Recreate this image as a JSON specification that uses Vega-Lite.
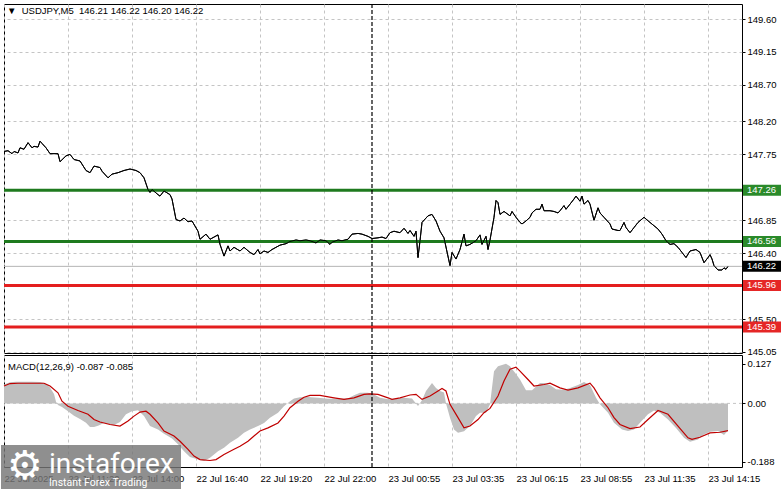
{
  "$schema": "https://vega.github.io/schema/vega-lite/v6.json",
  "background": "#ffffff",
  "padding": {"left": 0, "top": 2, "right": 0, "bottom": 0},
  "bounds": "flush",
  "spacing": 2,
  "config": {
    "view": {"stroke": "#000000", "strokeWidth": 1},
    "axis": {"labelFont": "Liberation Sans", "labelFontSize": 9.5, "labelColor": "#000000", "gridColor": "#c4c4c4", "gridDash": [3, 3], "gridWidth": 1, "tickColor": "#000000", "domain": false}
  },
  "datasets": {
    "price": [
      {"i":0,"p":147.79},{"i":2,"p":147.80},{"i":4,"p":147.76},{"i":5,"p":147.79},{"i":7,"p":147.77},{"i":8,"p":147.84},{"i":10,"p":147.82},{"i":12,"p":147.91},{"i":14,"p":147.84},{"i":15,"p":147.86},{"i":17,"p":147.85},{"i":18,"p":147.93},{"i":19,"p":147.90},{"i":21,"p":147.84},{"i":23,"p":147.76},{"i":27,"p":147.76},{"i":28,"p":147.65},{"i":31,"p":147.73},{"i":33,"p":147.75},{"i":35,"p":147.68},{"i":38,"p":147.66},{"i":41,"p":147.53},{"i":43,"p":147.50},{"i":45,"p":147.59},{"i":48,"p":147.57},{"i":49,"p":147.52},{"i":52,"p":147.43},{"i":54,"p":147.48},{"i":57,"p":147.50},{"i":60,"p":147.53},{"i":63,"p":147.55},{"i":66,"p":147.53},{"i":68,"p":147.50},{"i":70,"p":147.43},{"i":72,"p":147.27},{"i":73,"p":147.23},{"i":74,"p":147.27},{"i":77,"p":147.20},{"i":78,"p":147.18},{"i":80,"p":147.25},{"i":83,"p":147.20},{"i":84,"p":147.14},{"i":86,"p":146.86},{"i":88,"p":146.84},{"i":90,"p":146.88},{"i":92,"p":146.83},{"i":94,"p":146.84},{"i":97,"p":146.70},{"i":98,"p":146.59},{"i":101,"p":146.66},{"i":103,"p":146.59},{"i":107,"p":146.65},{"i":108,"p":146.52},{"i":110,"p":146.36},{"i":112,"p":146.50},{"i":113,"p":146.43},{"i":115,"p":146.48},{"i":118,"p":146.43},{"i":120,"p":146.48},{"i":123,"p":146.41},{"i":125,"p":146.38},{"i":127,"p":146.45},{"i":128,"p":146.39},{"i":130,"p":146.43},{"i":132,"p":146.41},{"i":134,"p":146.45},{"i":136,"p":146.48},{"i":138,"p":146.51},{"i":141,"p":146.53},{"i":143,"p":146.56},{"i":146,"p":146.58},{"i":148,"p":146.57},{"i":151,"p":146.58},{"i":153,"p":146.57},{"i":156,"p":146.54},{"i":158,"p":146.58},{"i":161,"p":146.57},{"i":163,"p":146.52},{"i":164,"p":146.55},{"i":167,"p":146.58},{"i":169,"p":146.57},{"i":172,"p":146.59},{"i":174,"p":146.66},{"i":177,"p":146.67},{"i":179,"p":146.66},{"i":182,"p":146.63},{"i":184,"p":146.60},{"i":187,"p":146.61},{"i":189,"p":146.62},{"i":191,"p":146.60},{"i":193,"p":146.68},{"i":195,"p":146.70},{"i":198,"p":146.68},{"i":200,"p":146.74},{"i":202,"p":146.67},{"i":203,"p":146.71},{"i":205,"p":146.63},{"i":206,"p":146.70},{"i":207,"p":146.34},{"i":208,"p":146.57},{"i":209,"p":146.82},{"i":212,"p":146.91},{"i":214,"p":146.93},{"i":216,"p":146.84},{"i":218,"p":146.70},{"i":220,"p":146.61},{"i":223,"p":146.23},{"i":224,"p":146.41},{"i":226,"p":146.32},{"i":228,"p":146.45},{"i":230,"p":146.66},{"i":231,"p":146.50},{"i":233,"p":146.52},{"i":236,"p":146.57},{"i":238,"p":146.65},{"i":239,"p":146.52},{"i":241,"p":146.63},{"i":242,"p":146.45},{"i":243,"p":146.58},{"i":245,"p":146.89},{"i":246,"p":147.12},{"i":247,"p":147.09},{"i":248,"p":146.93},{"i":250,"p":146.97},{"i":252,"p":146.93},{"i":253,"p":146.91},{"i":254,"p":146.97},{"i":256,"p":146.89},{"i":258,"p":146.82},{"i":259,"p":146.80},{"i":261,"p":146.84},{"i":263,"p":146.89},{"i":264,"p":146.95},{"i":266,"p":147.00},{"i":268,"p":147.00},{"i":269,"p":147.07},{"i":270,"p":146.98},{"i":273,"p":146.98},{"i":275,"p":146.97},{"i":277,"p":146.95},{"i":278,"p":146.98},{"i":280,"p":147.05},{"i":281,"p":147.00},{"i":283,"p":147.07},{"i":285,"p":147.14},{"i":286,"p":147.18},{"i":288,"p":147.11},{"i":289,"p":147.18},{"i":290,"p":147.07},{"i":292,"p":147.12},{"i":293,"p":147.07},{"i":295,"p":146.85},{"i":297,"p":147.02},{"i":298,"p":146.95},{"i":300,"p":146.89},{"i":303,"p":146.80},{"i":304,"p":146.73},{"i":307,"p":146.71},{"i":308,"p":146.71},{"i":310,"p":146.82},{"i":311,"p":146.75},{"i":313,"p":146.68},{"i":315,"p":146.75},{"i":317,"p":146.82},{"i":320,"p":146.89},{"i":323,"p":146.82},{"i":327,"p":146.73},{"i":329,"p":146.66},{"i":331,"p":146.57},{"i":333,"p":146.52},{"i":335,"p":146.53},{"i":337,"p":146.48},{"i":339,"p":146.41},{"i":341,"p":146.34},{"i":343,"p":146.43},{"i":346,"p":146.45},{"i":348,"p":146.41},{"i":350,"p":146.27},{"i":352,"p":146.34},{"i":353,"p":146.38},{"i":354,"p":146.32},{"i":355,"p":146.23},{"i":357,"p":146.17},{"i":359,"p":146.17},{"i":360,"p":146.20},{"i":361,"p":146.18},{"i":362,"p":146.22}
    ],
    "macd": [
      {"i":0,"v":0.061},{"i":3,"v":0.068},{"i":6,"v":0.070},{"i":10,"v":0.070},{"i":14,"v":0.070},{"i":18,"v":0.069},{"i":21,"v":0.064},{"i":23,"v":0.051},{"i":25,"v":0.030},{"i":26,"v":0.005},{"i":27,"v":-0.005},{"i":29,"v":-0.012},{"i":32,"v":-0.025},{"i":35,"v":-0.040},{"i":38,"v":-0.050},{"i":41,"v":-0.062},{"i":43,"v":-0.076},{"i":45,"v":-0.076},{"i":47,"v":-0.072},{"i":50,"v":-0.063},{"i":53,"v":-0.068},{"i":55,"v":-0.070},{"i":58,"v":-0.060},{"i":61,"v":-0.035},{"i":64,"v":-0.025},{"i":67,"v":-0.022},{"i":70,"v":-0.041},{"i":73,"v":-0.073},{"i":77,"v":-0.084},{"i":80,"v":-0.098},{"i":84,"v":-0.113},{"i":87,"v":-0.132},{"i":90,"v":-0.154},{"i":93,"v":-0.173},{"i":97,"v":-0.181},{"i":100,"v":-0.186},{"i":103,"v":-0.175},{"i":107,"v":-0.154},{"i":110,"v":-0.143},{"i":113,"v":-0.127},{"i":117,"v":-0.111},{"i":120,"v":-0.095},{"i":123,"v":-0.084},{"i":127,"v":-0.073},{"i":130,"v":-0.063},{"i":133,"v":-0.046},{"i":137,"v":-0.030},{"i":140,"v":-0.009},{"i":143,"v":0.007},{"i":145,"v":0.016},{"i":148,"v":0.020},{"i":152,"v":0.021},{"i":157,"v":0.018},{"i":162,"v":0.015},{"i":167,"v":0.015},{"i":172,"v":0.016},{"i":175,"v":0.026},{"i":178,"v":0.034},{"i":182,"v":0.034},{"i":185,"v":0.029},{"i":188,"v":0.018},{"i":192,"v":0.013},{"i":196,"v":0.015},{"i":200,"v":0.018},{"i":204,"v":0.016},{"i":207,"v":-0.008},{"i":209,"v":0.010},{"i":211,"v":0.040},{"i":214,"v":0.066},{"i":216,"v":0.050},{"i":218,"v":0.040},{"i":220,"v":0.035},{"i":221,"v":0.000},{"i":223,"v":-0.046},{"i":225,"v":-0.084},{"i":227,"v":-0.095},{"i":230,"v":-0.090},{"i":233,"v":-0.073},{"i":236,"v":-0.041},{"i":238,"v":-0.030},{"i":241,"v":-0.030},{"i":243,"v":-0.003},{"i":245,"v":0.104},{"i":247,"v":0.120},{"i":251,"v":0.128},{"i":253,"v":0.120},{"i":256,"v":0.095},{"i":258,"v":0.077},{"i":261,"v":0.042},{"i":264,"v":0.042},{"i":268,"v":0.066},{"i":270,"v":0.066},{"i":273,"v":0.059},{"i":276,"v":0.046},{"i":280,"v":0.044},{"i":283,"v":0.050},{"i":287,"v":0.059},{"i":290,"v":0.069},{"i":293,"v":0.059},{"i":296,"v":0.018},{"i":298,"v":-0.003},{"i":302,"v":-0.030},{"i":305,"v":-0.062},{"i":309,"v":-0.084},{"i":312,"v":-0.089},{"i":315,"v":-0.084},{"i":318,"v":-0.062},{"i":322,"v":-0.035},{"i":325,"v":-0.023},{"i":328,"v":-0.030},{"i":332,"v":-0.052},{"i":336,"v":-0.079},{"i":340,"v":-0.111},{"i":343,"v":-0.124},{"i":347,"v":-0.116},{"i":350,"v":-0.100},{"i":353,"v":-0.091},{"i":357,"v":-0.089},{"i":360,"v":-0.102},{"i":362,"v":-0.087}
    ],
    "signal": [
      {"i":0,"s":0.056},{"i":3,"s":0.064},{"i":7,"s":0.065},{"i":20,"s":0.065},{"i":23,"s":0.056},{"i":27,"s":0.034},{"i":29,"s":0.007},{"i":32,"s":-0.009},{"i":37,"s":-0.023},{"i":42,"s":-0.035},{"i":45,"s":-0.052},{"i":48,"s":-0.060},{"i":53,"s":-0.068},{"i":58,"s":-0.073},{"i":62,"s":-0.057},{"i":65,"s":-0.041},{"i":68,"s":-0.028},{"i":71,"s":-0.025},{"i":73,"s":-0.035},{"i":77,"s":-0.063},{"i":80,"s":-0.089},{"i":85,"s":-0.105},{"i":88,"s":-0.122},{"i":92,"s":-0.148},{"i":95,"s":-0.170},{"i":98,"s":-0.181},{"i":103,"s":-0.184},{"i":106,"s":-0.181},{"i":110,"s":-0.165},{"i":115,"s":-0.148},{"i":118,"s":-0.138},{"i":122,"s":-0.122},{"i":125,"s":-0.105},{"i":128,"s":-0.089},{"i":132,"s":-0.079},{"i":137,"s":-0.063},{"i":140,"s":-0.041},{"i":143,"s":-0.014},{"i":147,"s":0.007},{"i":150,"s":0.020},{"i":153,"s":0.026},{"i":158,"s":0.026},{"i":165,"s":0.018},{"i":170,"s":0.013},{"i":175,"s":0.018},{"i":180,"s":0.029},{"i":183,"s":0.031},{"i":187,"s":0.029},{"i":192,"s":0.018},{"i":194,"s":0.013},{"i":198,"s":0.018},{"i":203,"s":0.027},{"i":206,"s":0.029},{"i":209,"s":0.013},{"i":213,"s":0.024},{"i":217,"s":0.040},{"i":219,"s":0.048},{"i":221,"s":0.040},{"i":223,"s":-0.003},{"i":227,"s":-0.046},{"i":230,"s":-0.079},{"i":233,"s":-0.073},{"i":237,"s":-0.052},{"i":240,"s":-0.030},{"i":243,"s":-0.016},{"i":247,"s":0.024},{"i":250,"s":0.072},{"i":253,"s":0.110},{"i":256,"s":0.117},{"i":258,"s":0.104},{"i":262,"s":0.077},{"i":265,"s":0.056},{"i":270,"s":0.061},{"i":273,"s":0.065},{"i":278,"s":0.050},{"i":282,"s":0.043},{"i":287,"s":0.050},{"i":293,"s":0.065},{"i":295,"s":0.050},{"i":298,"s":0.018},{"i":302,"s":-0.014},{"i":305,"s":-0.046},{"i":308,"s":-0.068},{"i":313,"s":-0.081},{"i":318,"s":-0.076},{"i":322,"s":-0.052},{"i":327,"s":-0.023},{"i":332,"s":-0.035},{"i":337,"s":-0.073},{"i":342,"s":-0.111},{"i":344,"s":-0.116},{"i":348,"s":-0.109},{"i":353,"s":-0.095},{"i":358,"s":-0.093},{"i":362,"s":-0.088}
    ],
    "levels": [
      {"price": 147.26, "label": "147.26", "kind": "res"},
      {"price": 146.56, "label": "146.56", "kind": "res"},
      {"price": 145.96, "label": "145.96", "kind": "sup"},
      {"price": 145.39, "label": "145.39", "kind": "sup"},
      {"price": 146.22, "label": "146.22", "kind": "bid"}
    ],
    "header": [{"t": "▼\u00a0 USDJPY,M5\u00a0 146.21 146.22 146.20 146.22"}],
    "macdHeader": [{"t": "MACD(12,26,9) -0.087 -0.085"}],
    "separator": [{"i": 184}],
    "logoBig": [{"t": "instaforex"}],
    "logoSmall": [{"t": "Instant Forex Trading"}],
    "logoIcon": [{"t": "⚙"}]
  },
  "vconcat": [
    {
      "width": 738,
      "height": 349,
      "layer": [
        {
          "data": {"name": "price"},
          "mark": {"type": "line", "color": "#000000", "strokeWidth": 1},
          "encoding": {
            "x": {"field": "i", "type": "quantitative", "title": null, "scale": {"domain": [0, 369], "nice": false, "zero": false},
                  "axis": {"values": [0,16,32,48,64,80,96,112,128,144,160,176,192,208,224,240,256,272,288,304,320,336,352,368], "labels": false, "ticks": false, "tickSize": 0, "labelPadding": 0, "domain": false, "grid": true, "minExtent": 0, "maxExtent": 0, "offset": 0}},
            "y": {"field": "p", "type": "quantitative", "title": null, "scale": {"domain": [145.036, 149.805], "nice": false, "zero": false},
                  "axis": {"orient": "right", "values": [149.6, 149.15, 148.7, 148.2, 147.75, 146.85, 146.4, 145.5, 145.05], "format": ".2f", "grid": true, "tickSize": 3, "labelPadding": 2, "labelBaseline": "middle"}}
          }
        },
        {
          "data": {"name": "levels"},
          "transform": [{"filter": "datum.kind == 'bid'"}],
          "mark": {"type": "rule", "color": "#b4b4b4", "strokeWidth": 1},
          "encoding": {
            "y": {"field": "price", "type": "quantitative", "title": null, "scale": {"domain": [145.036, 149.805], "nice": false, "zero": false}}
          }
        },
        {
          "data": {"name": "levels"},
          "transform": [{"filter": "datum.kind != 'bid'"}],
          "mark": {"type": "rule", "strokeWidth": 3},
          "encoding": {
            "y": {"field": "price", "type": "quantitative", "title": null, "scale": {"domain": [145.036, 149.805], "nice": false, "zero": false}},
            "color": {"field": "kind", "type": "nominal", "legend": null, "scale": {"domain": ["res", "sup", "bid"], "range": ["#1e7a1e", "#e41e1e", "#000000"]}}
          }
        },
        {
          "data": {"name": "price"},
          "mark": {"type": "line", "color": "#000000", "strokeWidth": 1},
          "encoding": {
            "x": {"field": "i", "type": "quantitative", "title": null, "scale": {"domain": [0, 369], "nice": false, "zero": false}},
            "y": {"field": "p", "type": "quantitative", "title": null, "scale": {"domain": [145.036, 149.805], "nice": false, "zero": false}}
          }
        },
        {
          "data": {"name": "separator"},
          "mark": {"type": "rule", "color": "#000000", "strokeWidth": 1.2, "strokeDash": [4, 2]},
          "encoding": {
            "x": {"field": "i", "type": "quantitative", "title": null, "scale": {"domain": [0, 369], "nice": false, "zero": false}}
          }
        },
        {
          "data": {"name": "levels"},
          "mark": {"type": "tick", "orient": "horizontal", "size": 38, "thickness": 11, "opacity": 1},
          "encoding": {
            "x": {"datum": 379, "type": "quantitative", "title": null, "scale": {"domain": [0, 369], "nice": false, "zero": false}},
            "y": {"field": "price", "type": "quantitative", "title": null, "scale": {"domain": [145.036, 149.805], "nice": false, "zero": false}},
            "fill": {"field": "kind", "type": "nominal", "legend": null, "scale": {"domain": ["res", "sup", "bid"], "range": ["#2a8a2a", "#e52626", "#000000"]}}
          }
        },
        {
          "data": {"name": "levels"},
          "mark": {"type": "text", "align": "left", "baseline": "middle", "font": "Liberation Sans", "fontSize": 9.5, "color": "#ffffff"},
          "encoding": {
            "x": {"datum": 371.5, "type": "quantitative", "title": null, "scale": {"domain": [0, 369], "nice": false, "zero": false}},
            "y": {"field": "price", "type": "quantitative", "title": null, "scale": {"domain": [145.036, 149.805], "nice": false, "zero": false}},
            "text": {"field": "label"}
          }
        },
        {
          "data": {"name": "header"},
          "mark": {"type": "text", "align": "left", "baseline": "middle", "font": "Liberation Sans", "fontSize": 9.5, "color": "#000000"},
          "encoding": {
            "x": {"datum": 1.5, "type": "quantitative", "title": null, "scale": {"domain": [0, 369], "nice": false, "zero": false}},
            "y": {"datum": 149.71, "type": "quantitative", "title": null, "scale": {"domain": [145.036, 149.805], "nice": false, "zero": false}},
            "text": {"field": "t"}
          }
        }
      ]
    },
    {
      "width": 738,
      "height": 112,
      "layer": [
        {
          "data": {"name": "macd"},
          "mark": {"type": "area", "color": "#bfbfbf"},
          "encoding": {
            "x": {"field": "i", "type": "quantitative", "title": null, "scale": {"domain": [0, 369], "nice": false, "zero": false},
                  "axis": {"values": [0,16,32,48,64,80,96,112,128,144,160,176,192,208,224,240,256,272,288,304,320,336,352,368], "grid": true, "ticks": false, "tickSize": 0, "domain": false,
                           "labelExpr": "datum.value % 32 == 0 ? ['22 Jul 2025','22 Jul 11:20','22 Jul 14:00','22 Jul 16:40','22 Jul 19:20','22 Jul 22:00','23 Jul 00:55','23 Jul 03:35','23 Jul 06:15','23 Jul 08:55','23 Jul 11:35','23 Jul 14:15'][datum.value / 32] : ''",
                           "labelAlign": "left", "labelBaseline": "top", "labelPadding": 6, "labelFlush": false, "labelOverlap": false, "labelBound": false}},
            "y": {"field": "v", "type": "quantitative", "title": null, "scale": {"domain": [-0.205, 0.156], "nice": false, "zero": false},
                  "axis": {"orient": "right", "values": [0.127, 0, -0.188], "labelExpr": "datum.value == 0 ? '0.00' : (datum.value > 0 ? '0.127' : '-0.188')", "grid": false, "tickSize": 3, "labelPadding": 2, "labelBaseline": "middle"}},
            "y2": {"datum": 0}
          }
        },
        {
          "data": {"name": "separator"},
          "mark": {"type": "rule", "color": "#c4c4c4", "strokeWidth": 1, "strokeDash": [3, 3]},
          "encoding": {
            "y": {"datum": 0, "type": "quantitative", "title": null, "scale": {"domain": [-0.205, 0.156], "nice": false, "zero": false}}
          }
        },
        {
          "data": {"name": "signal"},
          "mark": {"type": "line", "color": "#c00000", "strokeWidth": 1.2},
          "encoding": {
            "x": {"field": "i", "type": "quantitative", "title": null, "scale": {"domain": [0, 369], "nice": false, "zero": false}},
            "y": {"field": "s", "type": "quantitative", "title": null, "scale": {"domain": [-0.205, 0.156], "nice": false, "zero": false}}
          }
        },
        {
          "data": {"name": "separator"},
          "mark": {"type": "rule", "color": "#000000", "strokeWidth": 1.2, "strokeDash": [4, 2]},
          "encoding": {
            "x": {"field": "i", "type": "quantitative", "title": null, "scale": {"domain": [0, 369], "nice": false, "zero": false}}
          }
        },
        {
          "data": {"name": "macdHeader"},
          "mark": {"type": "text", "align": "left", "baseline": "middle", "font": "Liberation Sans", "fontSize": 9.5, "color": "#000000"},
          "encoding": {
            "x": {"datum": 2, "type": "quantitative", "title": null, "scale": {"domain": [0, 369], "nice": false, "zero": false}},
            "y": {"datum": 0.117, "type": "quantitative", "title": null, "scale": {"domain": [-0.205, 0.156], "nice": false, "zero": false}},
            "text": {"field": "t"}
          }
        },
        {
          "data": {"name": "logoBig"},
          "mark": {"type": "rect", "color": "#767676", "opacity": 0.82},
          "encoding": {
            "x": {"datum": -1.5, "type": "quantitative", "title": null, "scale": {"domain": [0, 369], "nice": false, "zero": false}},
            "x2": {"datum": 88.5},
            "y": {"datum": -0.134, "type": "quantitative", "title": null, "scale": {"domain": [-0.205, 0.156], "nice": false, "zero": false}},
            "y2": {"datum": -0.28}
          }
        },
        {
          "data": {"name": "logoIcon"},
          "mark": {"type": "text", "align": "center", "baseline": "middle", "font": "DejaVu Sans", "fontSize": 40, "color": "#ffffff"},
          "encoding": {
            "x": {"datum": 10.5, "type": "quantitative", "title": null, "scale": {"domain": [0, 369], "nice": false, "zero": false}},
            "y": {"datum": -0.2053, "type": "quantitative", "title": null, "scale": {"domain": [-0.205, 0.156], "nice": false, "zero": false}},
            "text": {"field": "t"}
          }
        },
        {
          "data": {"name": "logoBig"},
          "mark": {"type": "text", "align": "left", "baseline": "alphabetic", "font": "Roboto", "fontSize": 28, "color": "#ffffff"},
          "encoding": {
            "x": {"datum": 22.5, "type": "quantitative", "title": null, "scale": {"domain": [0, 369], "nice": false, "zero": false}},
            "y": {"datum": -0.2246, "type": "quantitative", "title": null, "scale": {"domain": [-0.205, 0.156], "nice": false, "zero": false}},
            "text": {"field": "t"}
          }
        },
        {
          "data": {"name": "logoSmall"},
          "mark": {"type": "text", "align": "left", "baseline": "alphabetic", "font": "Roboto", "fontSize": 10.5, "color": "#ffffff"},
          "encoding": {
            "x": {"datum": 22.5, "type": "quantitative", "title": null, "scale": {"domain": [0, 369], "nice": false, "zero": false}},
            "y": {"datum": -0.2665, "type": "quantitative", "title": null, "scale": {"domain": [-0.205, 0.156], "nice": false, "zero": false}},
            "text": {"field": "t"}
          }
        }
      ]
    }
  ]
}
